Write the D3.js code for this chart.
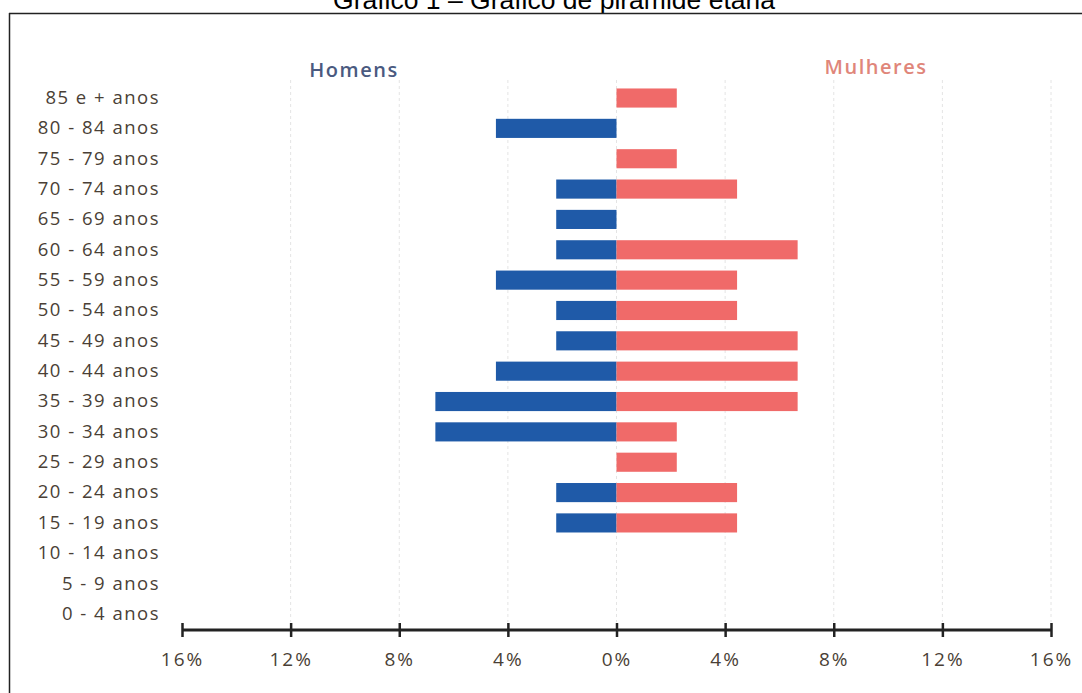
<!DOCTYPE html>
<html><head><meta charset="utf-8">
<script src="https://cdn.jsdelivr.net/npm/d3@7"></script>
<style>body{margin:0;background:#fff}svg{display:block}</style>
</head><body>
<svg id="c" width="1082" height="693"></svg>
<script>
const categories = ["85 e + anos","80 - 84 anos","75 - 79 anos","70 - 74 anos","65 - 69 anos","60 - 64 anos","55 - 59 anos","50 - 54 anos","45 - 49 anos","40 - 44 anos","35 - 39 anos","30 - 34 anos","25 - 29 anos","20 - 24 anos","15 - 19 anos","10 - 14 anos","5 - 9 anos","0 - 4 anos"];
const homens   = [0, 4.44, 0, 2.22, 2.22, 2.22, 4.44, 2.22, 2.22, 4.44, 6.67, 6.67, 0, 2.22, 2.22, 0, 0, 0];
const mulheres = [2.22, 0, 2.22, 4.44, 0, 6.67, 4.44, 4.44, 6.67, 6.67, 6.67, 2.22, 2.22, 4.44, 4.44, 0, 0, 0];
const tickValues = [-16, -12, -8, -4, 0, 4, 8, 12, 16];
const title = "Gráfico 1 – Gráfico de pirâmide etária";

const svg = d3.select("#c");
const x = d3.scaleLinear().domain([-16, 16]).range([182, 1051]);
const y = d3.scaleBand().domain(categories).range([83, 629]).paddingInner(0.37).paddingOuter(0.18);

// title & frame
svg.append("text").attr("x", 554).attr("y", 9).attr("text-anchor", "middle")
  .attr("font-family", "Liberation Sans, Arial, sans-serif").attr("font-size", 26.5).attr("fill", "#000").text(title);
svg.append("line").attr("x1", 9).attr("x2", 1082).attr("y1", 13.5).attr("y2", 13.5).attr("stroke", "#222").attr("stroke-width", 1.5);
svg.append("line").attr("x1", 9.5).attr("x2", 9.5).attr("y1", 13).attr("y2", 693).attr("stroke", "#222").attr("stroke-width", 1.5);

// gridlines
svg.append("g").selectAll("line").data(tickValues.filter(d => d !== -16)).join("line")
  .attr("x1", d => x(d)).attr("x2", d => x(d)).attr("y1", 80).attr("y2", 622)
  .attr("stroke", "#e4e4e4").attr("stroke-width", 1).attr("stroke-dasharray", "3,3");

// bars
svg.append("g").selectAll("rect").data(categories).join("rect")
  .attr("x", (d, i) => x(-homens[i])).attr("width", (d, i) => x(0) - x(-homens[i]))
  .attr("y", d => y(d)).attr("height", y.bandwidth()).attr("fill", "#1f5aa8");
svg.append("g").selectAll("rect").data(categories).join("rect")
  .attr("x", x(0)).attr("width", (d, i) => x(mulheres[i]) - x(0))
  .attr("y", d => y(d)).attr("height", y.bandwidth()).attr("fill", "#f06a69");

// y labels
const yAxis = d3.axisLeft(y).tickSize(0).tickPadding(0);
const gy = svg.append("g").attr("transform", "translate(160,0)").call(yAxis);
gy.select(".domain").remove();
gy.selectAll("text").attr("font-family", "Open Sans, sans-serif").attr("font-size", 18.5).attr("letter-spacing", 1.5).attr("fill", "#4a3f36");

// x axis
const xAxis = d3.axisBottom(x).tickValues(tickValues).tickSize(14).tickFormat(d => Math.abs(d) + "%");
const gx = svg.append("g").attr("transform", "translate(0,623)").call(xAxis);
gx.select(".domain").remove();
gx.append("line").attr("x1", x(-16)).attr("x2", x(16)).attr("y1", 7).attr("y2", 7).attr("stroke", "#222").attr("stroke-width", 3);
gx.selectAll(".tick line").attr("stroke", "#222").attr("stroke-width", 2.5);
gx.selectAll("text").attr("y", 30).attr("font-family", "Open Sans, sans-serif").attr("font-size", 19).attr("letter-spacing", 2).attr("fill", "#4a3f36");

// series labels
svg.append("text").attr("x", 354).attr("y", 77).attr("text-anchor", "middle")
  .attr("font-family", "Open Sans, sans-serif").attr("font-size", 20).attr("font-weight", 600).attr("letter-spacing", 1.5).attr("fill", "#4a5a80").text("Homens");
svg.append("text").attr("x", 876).attr("y", 74).attr("text-anchor", "middle")
  .attr("font-family", "Open Sans, sans-serif").attr("font-size", 20).attr("font-weight", 600).attr("letter-spacing", 1.5).attr("fill", "#e0867a").text("Mulheres");
</script>
</body></html>
